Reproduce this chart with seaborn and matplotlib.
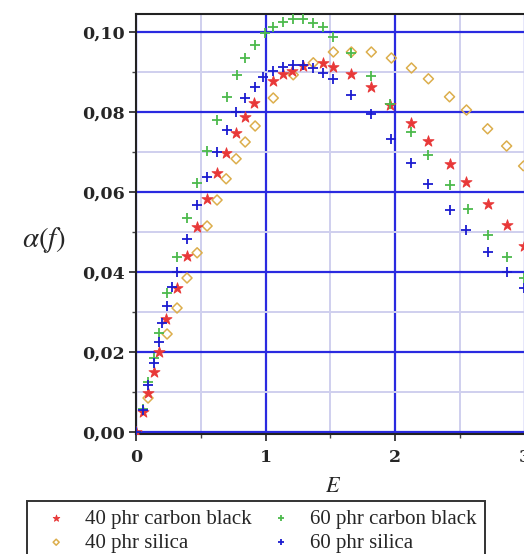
import matplotlib
matplotlib.use("Agg")
import matplotlib.pyplot as plt
from matplotlib.ticker import MultipleLocator, FuncFormatter
from matplotlib.font_manager import FontProperties
import seaborn as sns

# Hysteresis loss fraction alpha(f) against strain energy E
cb40_E = [0.0, 0.054, 0.093, 0.139, 0.178, 0.232, 0.317, 0.394, 0.472, 0.549, 0.626,
          0.696, 0.773, 0.843, 0.913, 1.060, 1.137, 1.207, 1.292, 1.446, 1.524, 1.663,
          1.817, 1.964, 2.127, 2.258, 2.421, 2.552, 2.715, 2.862, 2.993]
cb40_a = [0.0, 0.0050, 0.0098, 0.0150, 0.0200, 0.0283, 0.0360, 0.0440, 0.0513, 0.0583,
          0.0648, 0.0698, 0.0748, 0.0788, 0.0823, 0.0878, 0.0895, 0.0903, 0.0915, 0.0923,
          0.0913, 0.0895, 0.0863, 0.0818, 0.0773, 0.0728, 0.0670, 0.0625, 0.0570, 0.0518,
          0.0465]

si40_E = [0.093, 0.240, 0.317, 0.394, 0.472, 0.549, 0.626, 0.696, 0.773, 0.843, 0.920,
          1.060, 1.214, 1.369, 1.524, 1.663, 1.817, 1.972, 2.127, 2.258, 2.421, 2.552,
          2.715, 2.862, 2.993]
si40_a = [0.0085, 0.0245, 0.0310, 0.0385, 0.0448, 0.0515, 0.0580, 0.0633, 0.0683, 0.0725,
          0.0765, 0.0835, 0.0893, 0.0923, 0.0950, 0.0950, 0.0950, 0.0935, 0.0910, 0.0883,
          0.0838, 0.0805, 0.0758, 0.0715, 0.0665]

cb60_E = [0.0, 0.054, 0.093, 0.139, 0.178, 0.240, 0.317, 0.394, 0.472, 0.549, 0.626,
          0.704, 0.781, 0.843, 0.920, 0.998, 1.060, 1.137, 1.214, 1.292, 1.369, 1.446,
          1.524, 1.663, 1.817, 1.964, 2.127, 2.258, 2.421, 2.560, 2.715, 2.862, 2.993]
cb60_a = [0.0, 0.0058, 0.0125, 0.0185, 0.0248, 0.0348, 0.0438, 0.0535, 0.0623, 0.0703,
          0.0780, 0.0838, 0.0893, 0.0935, 0.0968, 0.0998, 0.1013, 0.1025, 0.1033, 0.1033,
          0.1023, 0.1013, 0.0988, 0.0948, 0.0890, 0.0820, 0.0750, 0.0693, 0.0618, 0.0558,
          0.0493, 0.0438, 0.0385]

si60_E = [0.0, 0.054, 0.093, 0.139, 0.178, 0.201, 0.240, 0.278, 0.317, 0.394, 0.472,
          0.549, 0.626, 0.704, 0.773, 0.843, 0.920, 0.982, 1.060, 1.137, 1.214, 1.292,
          1.369, 1.446, 1.524, 1.663, 1.817, 1.972, 2.127, 2.258, 2.421, 2.552, 2.715,
          2.862, 2.993]
si60_a = [0.0, 0.0055, 0.0118, 0.0173, 0.0225, 0.0273, 0.0315, 0.0363, 0.0400, 0.0483,
          0.0568, 0.0638, 0.0700, 0.0755, 0.0800, 0.0835, 0.0863, 0.0888, 0.0903, 0.0913,
          0.0918, 0.0918, 0.0910, 0.0898, 0.0883, 0.0843, 0.0795, 0.0733, 0.0673, 0.0620,
          0.0555, 0.0505, 0.0450, 0.0400, 0.0360]

labels = ["40 phr carbon black", "40 phr silica", "60 phr carbon black", "60 phr silica"]
x_ticks = [0, 1, 2, 3]

sns.set_style("white")
plt.rcParams["mathtext.fontset"] = "stix"

fig = plt.figure(figsize=(5.24, 5.54), dpi=100)
ax = fig.add_axes([136 / 524, 120 / 554, 388.5 / 524, 420 / 554])

ax.set_xlim(0, 3.0)
ax.set_ylim(-0.0005, 0.1045)

# grid: blue major lines, pale lavender minor lines
ax.xaxis.set_major_locator(MultipleLocator(1))
ax.xaxis.set_minor_locator(MultipleLocator(0.5))
ax.yaxis.set_major_locator(MultipleLocator(0.02))
ax.yaxis.set_minor_locator(MultipleLocator(0.01))
ax.set_axisbelow(True)
ax.grid(which="major", color="#2a2ae0", linewidth=1.6)
ax.grid(which="minor", color="#cfcfee", linewidth=1.4)

red, tan, green, blue = "#e83838", "#dcae4c", "#4cba4c", "#1c1cd0"

sns.scatterplot(x=si40_E, y=si40_a, ax=ax, marker="D", s=26, facecolor="none",
                edgecolor=tan, linewidth=1.1, label=labels[1], zorder=3)
sns.scatterplot(x=cb40_E, y=cb40_a, ax=ax, marker="*", s=70, color=red,
                edgecolor=red, linewidth=0.6, label=labels[0], zorder=4)
sns.scatterplot(x=cb60_E, y=cb60_a, ax=ax, marker="+", s=60, color=green,
                linewidth=1.3, label=labels[2], zorder=5)
sns.scatterplot(x=si60_E, y=si60_a, ax=ax, marker="+", s=60, color=blue,
                linewidth=1.3, label=labels[3], zorder=6)

for side in ["left", "bottom", "top"]:
    ax.spines[side].set_visible(True)
    ax.spines[side].set_color("#222222")
    ax.spines[side].set_linewidth(1.5)
ax.spines["right"].set_visible(False)

tick_font = FontProperties(family="DejaVu Serif", weight="bold", size=12.5)
ax.yaxis.set_major_formatter(FuncFormatter(lambda v, p: f"{v:.2f}".replace(".", ",")))
ax.set_xticks(x_ticks)
ax.set_xticklabels([str(t) for t in x_ticks])
for lab in ax.get_xticklabels() + ax.get_yticklabels():
    lab.set_fontproperties(tick_font)
ax.tick_params(which="major", direction="out", length=5, width=1.2, color="#222222",
               left=True, bottom=True, pad=3)
ax.tick_params(which="minor", direction="out", length=3, width=1.0, color="#444444",
               left=True, bottom=True)
ax.tick_params(axis="x", which="major", pad=6)

fig.text(44 / 524, 1 - 240 / 554, r"$\alpha(f)$", fontsize=21, ha="center", va="center")
fig.text(333 / 524, 1 - 486 / 554, r"$E$", fontsize=16, ha="center", va="center")

handles, labs = ax.get_legend_handles_labels()
ax.get_legend().remove()
order = [labs.index(l) for l in labels]
leg = fig.legend([handles[i] for i in order], [labs[i] for i in order],
                 loc="upper left", bbox_to_anchor=(27 / 524, 1 - 501 / 554), ncol=2,
                 frameon=True, fancybox=False, edgecolor="#333333", framealpha=1,
                 prop=FontProperties(family="Liberation Serif", size=15),
                 borderaxespad=0, markerscale=0.6, handlelength=2.0,
                 handletextpad=0.4, columnspacing=0.4, labelspacing=0.2,
                 borderpad=0.4)
leg.get_frame().set_linewidth(1.4)

fig.savefig("out.png", dpi=100)
